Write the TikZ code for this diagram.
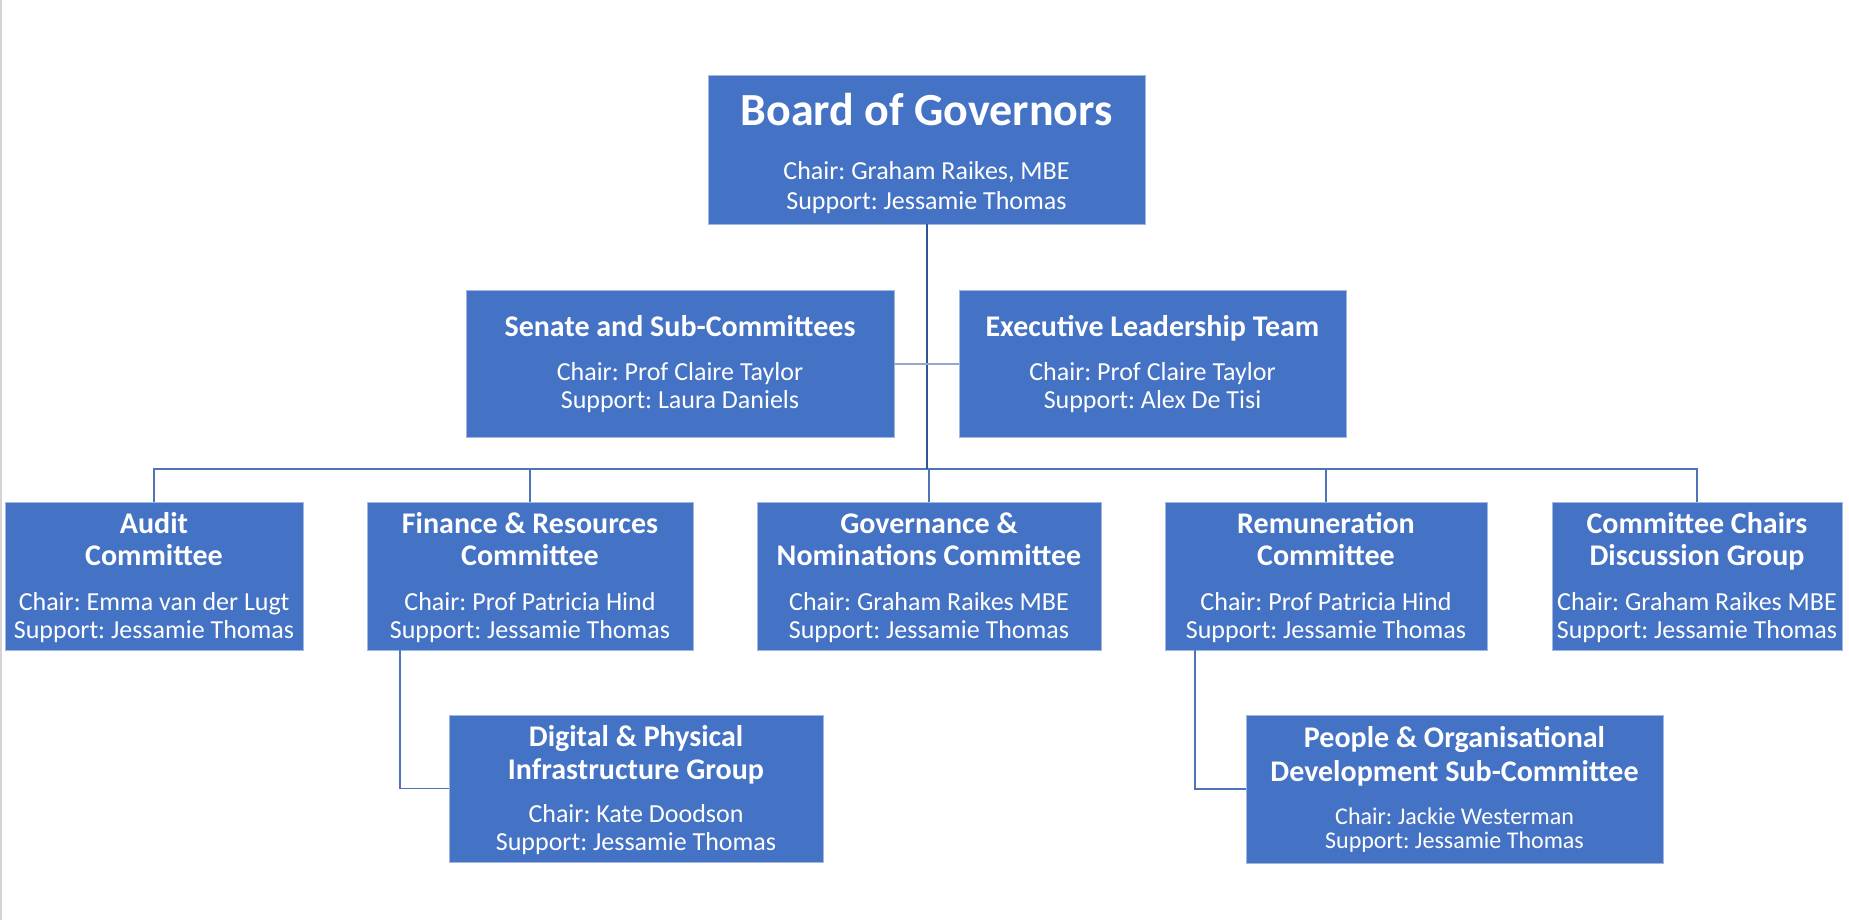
\documentclass[tikz,border=0pt]{standalone}
\usepackage{fontspec}
\setmainfont{Carlito}
\frenchspacing
\definecolor{boxblue}{HTML}{4472C4}
\definecolor{boxedge}{HTML}{A3B8E0}
\definecolor{trunkc}{HTML}{2F5597}
\definecolor{linkc}{HTML}{4F74B8}
\definecolor{sidec}{HTML}{8FA8CC}
\definecolor{pageedge}{HTML}{D4D4D4}
\begin{document}
\frenchspacing
\begin{tikzpicture}[x=1pt,y=-1pt,
  orgbox/.style={draw=boxedge, fill=boxblue, line width=1pt, inner sep=0pt, outer sep=0pt},
  bigt/.style={text=white, font=\fontsize{46}{50}\selectfont\bfseries, anchor=base, inner sep=0pt},
  ttl/.style={text=white, font=\fontsize{30}{34}\selectfont\bfseries, anchor=base, inner sep=0pt},
  sub/.style={text=white, font=\fontsize{26}{30}\selectfont, anchor=base, inner sep=0pt},
  subsm/.style={text=white, font=\fontsize{24}{28}\selectfont, anchor=base, inner sep=0pt},
  conn/.style={draw=linkc, line width=1.5pt},
  trunkline/.style={draw=trunkc, line width=2pt},
  sideline/.style={draw=sidec, line width=2pt},
]
\useasboundingbox (0,0) rectangle (1849,920);
\coordinate (edgetop) at (1,0);
\coordinate (edgebot) at (1,920);
\draw[pageedge, line width=1.2pt] (edgetop) -- (edgebot);

% boxes
\node[orgbox, minimum width=437pt, minimum height=148pt] (bog) at (926.5,150) {};
\node[orgbox, minimum width=428pt, minimum height=147pt] (sen) at (680,363.5) {};
\node[orgbox, minimum width=387pt, minimum height=147pt] (exe) at (1152.5,363.5) {};
\node[orgbox, minimum width=298pt, minimum height=148pt] (aud) at (154,576) {};
\node[orgbox, minimum width=326pt, minimum height=148pt] (fin) at (530,576) {};
\node[orgbox, minimum width=344pt, minimum height=148pt] (gov) at (929,576) {};
\node[orgbox, minimum width=322pt, minimum height=148pt] (rem) at (1326,576) {};
\node[orgbox, minimum width=290pt, minimum height=148pt] (cc) at (1697,576) {};
\node[orgbox, minimum width=374pt, minimum height=147pt] (dig) at (636,788.5) {};
\node[orgbox, minimum width=417pt, minimum height=148pt] (ppl) at (1454.5,789) {};

% connectors
\coordinate (busmid) at (927,469);
\draw[conn] (aud.north) |- (cc.north |- busmid) -- (cc.north);
\draw[conn] (fin.north) -- (fin.north |- busmid);
\draw[conn] (gov.north) -- (gov.north |- busmid);
\draw[conn] (rem.north) -- (rem.north |- busmid);
\draw[trunkline] (bog.south) -- (bog.south |- busmid);
\draw[sideline] (sen.east) -- (exe.west);
\draw[conn] ([xshift=-130pt]fin.south) |- (dig.west);
\draw[conn] ([xshift=-131pt]rem.south) |- (ppl.west);

% texts
\node[bigt] (bog-t) at (926.5,126) {Board of Governors};
\node[sub] (bog-c) at (926.5,180) {Chair: Graham Raikes, MBE};
\node[sub] (bog-s) at (926.5,209) {Support: Jessamie Thomas};

\node[ttl] (sen-t) at (680,336) {Senate and Sub-Committees};
\node[sub] (sen-c) at (680,380) {Chair: Prof Claire Taylor};
\node[sub] (sen-s) at (680,408) {Support: Laura Daniels};

\node[ttl] (exe-t) at (1152.5,336) {Executive Leadership Team};
\node[sub] (exe-c) at (1152.5,380) {Chair: Prof Claire Taylor};
\node[sub] (exe-s) at (1152.5,408) {Support: Alex De Tisi};

\node[ttl] (aud-t1) at (154,533) {Audit};
\node[ttl] (aud-t2) at (154,565) {Committee};
\node[sub] (aud-c) at (154,610) {Chair: Emma van der Lugt};
\node[sub] (aud-s) at (154,638) {Support: Jessamie Thomas};

\node[ttl] (fin-t1) at (530,533) {Finance \& Resources};
\node[ttl] (fin-t2) at (530,565) {Committee};
\node[sub] (fin-c) at (530,610) {Chair: Prof Patricia Hind};
\node[sub] (fin-s) at (530,638) {Support: Jessamie Thomas};

\node[ttl] (gov-t1) at (929,533) {Governance \&};
\node[ttl] (gov-t2) at (929,565) {Nominations Committee};
\node[sub] (gov-c) at (929,610) {Chair: Graham Raikes MBE};
\node[sub] (gov-s) at (929,638) {Support: Jessamie Thomas};

\node[ttl] (rem-t1) at (1326,533) {Remuneration};
\node[ttl] (rem-t2) at (1326,565) {Committee};
\node[sub] (rem-c) at (1326,610) {Chair: Prof Patricia Hind};
\node[sub] (rem-s) at (1326,638) {Support: Jessamie Thomas};

\node[ttl] (cc-t1) at (1697,533) {Committee Chairs};
\node[ttl] (cc-t2) at (1697,565) {Discussion Group};
\node[sub] (cc-c) at (1697,610) {Chair: Graham Raikes MBE};
\node[sub] (cc-s) at (1697,638) {Support: Jessamie Thomas};

\node[ttl] (dig-t1) at (636,746) {Digital \& Physical};
\node[ttl] (dig-t2) at (636,779) {Infrastructure Group};
\node[sub] (dig-c) at (636,822) {Chair: Kate Doodson};
\node[sub] (dig-s) at (636,850) {Support: Jessamie Thomas};

\node[ttl] (ppl-t1) at (1454.5,747) {People \& Organisational};
\node[ttl] (ppl-t2) at (1454.5,781) {Development Sub-Committee};
\node[subsm] (ppl-c) at (1454.5,824) {Chair: Jackie Westerman};
\node[subsm] (ppl-s) at (1454.5,848) {Support: Jessamie Thomas};
\end{tikzpicture}
\end{document}
